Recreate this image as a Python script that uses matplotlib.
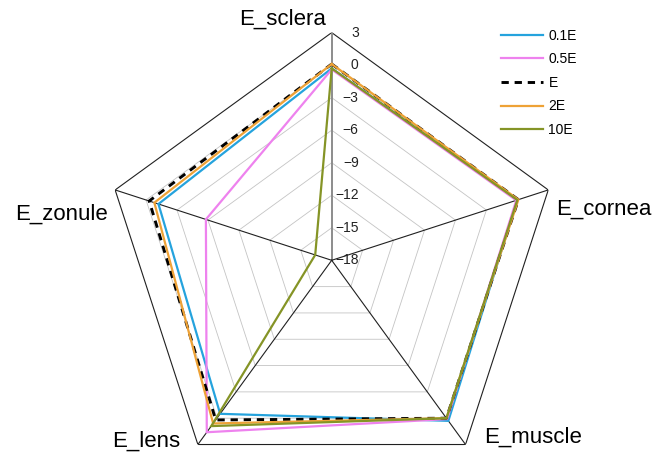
import numpy as np
import matplotlib
matplotlib.use("Agg")
import matplotlib.pyplot as plt

plt.rcParams["font.family"] = ["Liberation Sans", "DejaVu Sans"]

# Radar axes (clockwise from top) and stiffness-scaling series
categories = ["E_sclera", "E_cornea", "E_muscle", "E_lens", "E_zonule"]
series_names = ["0.1E", "0.5E", "E", "2E", "10E"]
vals_01E = [-0.3, 0.0, 0.3, -0.5, -1.2]
vals_05E = [-0.4, -0.1, 0.1, 1.6, -5.8]
vals_E = [0.1, 0.1, 0.0, 0.2, -0.3]
vals_2E = [0.1, 0.1, 0.0, 0.6, -0.8]
vals_10E = [-0.3, 0.0, 0.0, 0.9, -16.4]
r_ticks = [-18, -15, -12, -9, -6, -3, 0, 3]
r_min, r_max = -18, 3

series = [vals_01E, vals_05E, vals_E, vals_2E, vals_10E]
styles = [
    dict(color="#25a3dd", lw=1.6, ls="-"),
    dict(color="#ee82ee", lw=1.6, ls="-"),
    dict(color="#000000", lw=2.1, ls=(0, (2.5, 2.0))),
    dict(color="#eea236", lw=1.6, ls="-"),
    dict(color="#859426", lw=1.6, ls="-"),
]

n = len(categories)
angles = np.arange(n) * 2 * np.pi / n
closed = np.append(angles, angles[0])

fig = plt.figure(figsize=(6.52, 4.54), dpi=100)
ax = fig.add_axes([0.1595, -0.0749, 0.6985, 1.0031], projection="polar")
ax.set_theta_zero_location("N")
ax.set_theta_direction(-1)
ax.set_ylim(r_min, r_max)
ax.grid(False)
ax.spines["polar"].set_visible(False)
ax.set_xticks([])
ax.set_yticks([])
ax.patch.set_alpha(0)

# pentagon gridlines
for lvl in r_ticks[1:-1]:
    ax.plot(closed, [lvl] * (n + 1), color="#c4c4c4", lw=0.6, zorder=1)
ax.plot(closed, [r_max] * (n + 1), color="#202020", lw=0.8, zorder=1)

# spokes
for i, a in enumerate(angles):
    if i == 0:
        ax.plot([a, a], [r_min, r_max], color="#8c8c8c", lw=1.4, zorder=2)
    else:
        ax.plot([a, a], [r_min, r_max], color="#202020", lw=0.8, zorder=2)

# value labels along the top spoke
for lvl in r_ticks:
    txt = str(lvl).replace("-", "\u2212")
    ax.annotate(txt, xy=(0, lvl), xytext=(27, 0), textcoords="offset pixels",
                ha="right", va="center", fontsize=10, color="#222222",
                annotation_clip=False)

# data series
for name, vals, st in zip(series_names, series, styles):
    ax.plot(closed, list(vals) + [vals[0]], label=name, zorder=3,
            solid_joinstyle="miter", dash_capstyle="butt", **st)

# category labels
label_pos = [
    dict(xytext=(-6, 8), ha="right"),
    dict(xytext=(8, -25), ha="left"),
    dict(xytext=(19, 2), ha="left"),
    dict(xytext=(-18, -2), ha="right"),
    dict(xytext=(-7, -30), ha="right"),
]
for a, cat, lp in zip(angles, categories, label_pos):
    ax.annotate(cat, xy=(a, r_max), xytext=lp["xytext"], textcoords="offset pixels",
                ha=lp["ha"], va="baseline", fontsize=16, color="#000000",
                annotation_clip=False)

leg = fig.legend(loc="upper left", bbox_to_anchor=(0.758, 0.952), frameon=False,
                 fontsize=10, handlelength=3.0, handletextpad=0.4,
                 labelspacing=0.69, borderpad=0.0)

fig.savefig("out.png", dpi=100)
